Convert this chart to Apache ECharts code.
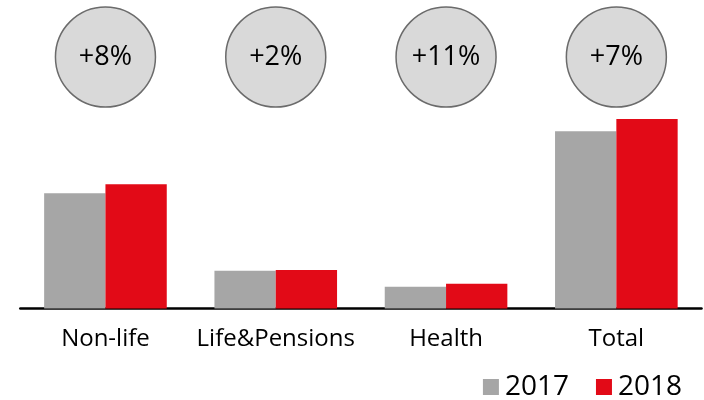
<!DOCTYPE html>
<html>
<head>
<meta charset="utf-8">
<script src="https://cdn.jsdelivr.net/npm/echarts@6/dist/echarts.min.js"></script>
<style>html,body{margin:0;padding:0;background:#fff}#c{width:704px;height:400px}</style>
</head>
<body>
<div id="c"></div>
<script>
var categories = ['Non-life', 'Life&Pensions', 'Health', 'Total'];
var values2017 = [115.2, 37.8, 21.8, 177.2];
var values2018 = [124.2, 38.5, 24.8, 189.5];
var growthLabels = ['+8%', '+2%', '+11%', '+7%'];
var bubbleLevel = [251.5, 251.5, 251.5, 251.5];

var FONT = '"Open Sans", "Noto Sans", sans-serif';
var chart = echarts.init(document.getElementById('c'), null, {renderer: 'canvas'});
chart.setOption({
  animation: false,
  grid: {left: 20.3, right: 2.5, top: 8.5, bottom: 91.5, containLabel: false},
  legend: {
    data: ['2017', '2018'],
    right: 22, top: 373, padding: 0,
    icon: 'rect', itemWidth: 16, itemHeight: 16, itemGap: 27,
    textStyle: {fontSize: 28, color: '#000', fontFamily: FONT, padding: [0, 0, 0, 1]}
  },
  xAxis: {
    type: 'category',
    data: categories,
    axisLine: {lineStyle: {color: '#000', width: 2.5}},
    axisTick: {show: false},
    axisLabel: {fontSize: 24, color: '#000', fontFamily: FONT, margin: 19, interval: 0}
  },
  yAxis: {
    type: 'value', min: 0, max: 300, show: false,
    splitLine: {show: false}
  },
  series: [
    {
      name: '2017', type: 'bar', data: values2017,
      itemStyle: {color: '#a6a6a6'},
      barGap: '0%', barCategoryGap: '28%'
    },
    {
      name: '2018', type: 'bar', data: values2018,
      itemStyle: {color: '#e20a17'}
    },
    {
      name: 'growth', type: 'scatter', data: bubbleLevel,
      symbol: 'circle', symbolSize: [100, 100],
      itemStyle: {color: '#d9d9d9', borderColor: '#6b6b6b', borderWidth: 1.5, opacity: 1},
      label: {
        show: true, position: 'inside', color: '#000', fontSize: 27, fontFamily: FONT,
        formatter: function (p) { return growthLabels[p.dataIndex]; }
      },
      emphasis: {disabled: true},
      z: 5
    }
  ]
});
</script>
</body>
</html>
